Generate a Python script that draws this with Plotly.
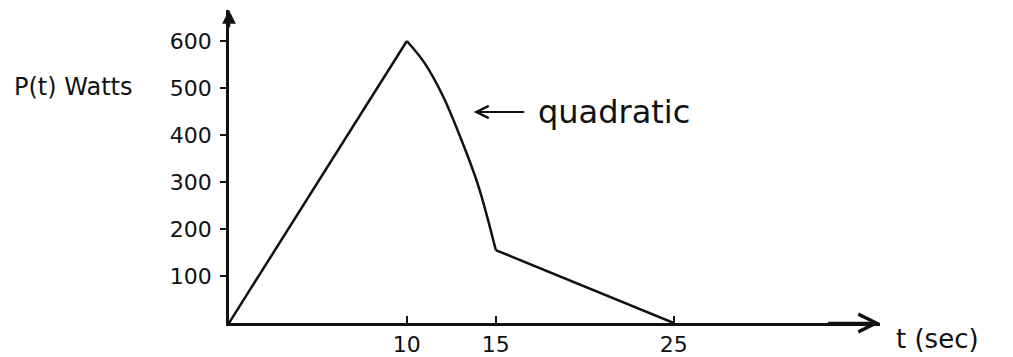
"""
Gráfico de potência P(t) em função do tempo
"""

import plotly.graph_objects as go

# trechos retos: subida até o pico e descida final
TEMPO_RETA_1 = [0, 10]
POTENCIA_RETA_1 = [0, 600]

TEMPO_QUADRATICO = [10, 11, 12, 13, 14, 15]
POTENCIA_QUADRATICO = [600, 553, 485, 396, 294, 155]

TEMPO_RETA_2 = [15, 25]
POTENCIA_RETA_2 = [155, 0]

TICKS_X = [10, 15, 25]
TICKS_Y = [100, 200, 300, 400, 500, 600]

FONTE = "DejaVu Sans"
PRETO = "#111111"


def criar_grafico_potencia():
    """
    Cria o gráfico P(t) com eixos em seta e anotação do trecho quadrático

    Returns:
        Figure Plotly
    """
    fig = go.Figure()

    linha = dict(color=PRETO, width=2.5)

    fig.add_trace(go.Scatter(x=TEMPO_RETA_1, y=POTENCIA_RETA_1,
                             mode="lines", line=linha))
    fig.add_trace(go.Scatter(x=TEMPO_QUADRATICO, y=POTENCIA_QUADRATICO,
                             mode="lines", line=dict(linha, shape="spline")))
    fig.add_trace(go.Scatter(x=TEMPO_RETA_2, y=POTENCIA_RETA_2,
                             mode="lines", line=linha))

    x_max = 36.6
    y_max = 666

    # setas dos eixos
    fig.add_annotation(x=x_max, y=0, ax=x_max - 3, ay=0,
                       xref="x", yref="y", axref="x", ayref="y",
                       text="", showarrow=True, arrowhead=5,
                       arrowsize=1.4, arrowwidth=2.5, arrowcolor=PRETO)
    fig.add_annotation(x=0, y=y_max, ax=0, ay=y_max - 40,
                       xref="x", yref="y", axref="x", ayref="y",
                       text="", showarrow=True, arrowhead=2,
                       arrowsize=1.1, arrowwidth=2.5, arrowcolor=PRETO)

    # seta e texto "quadratic"
    fig.add_annotation(x=13.76, y=449, ax=52, ay=0,
                       text="", showarrow=True, arrowhead=5,
                       arrowsize=1.1, arrowwidth=2.2, arrowcolor=PRETO)
    fig.add_annotation(x=17.25, y=449, text="quadratic", showarrow=False,
                       xanchor="left", yanchor="middle",
                       font=dict(family=FONTE, size=32, color=PRETO))

    fig.add_annotation(x=-0.333, y=502, xref="paper", yref="y",
                       text="P(t) Watts", showarrow=False,
                       xanchor="left", yanchor="middle",
                       font=dict(family=FONTE, size=24, color=PRETO))
    fig.add_annotation(x=1.022, y=-0.052, xref="paper", yref="paper",
                       text="t (sec)", showarrow=False,
                       xanchor="left", yanchor="middle",
                       font=dict(family=FONTE, size=26, color=PRETO))

    fig.update_layout(
        width=1013,
        height=357,
        margin=dict(l=221, r=141, t=2, b=42),
        showlegend=False,
        plot_bgcolor="white",
        paper_bgcolor="white",
        font=dict(family=FONTE, size=22, color=PRETO),
        xaxis=dict(
            range=[0, x_max],
            tickvals=TICKS_X,
            ticks="inside",
            ticklen=7,
            tickwidth=2,
            tickcolor=PRETO,
            showline=True,
            linewidth=2.5,
            linecolor=PRETO,
            showgrid=False,
            zeroline=False,
            fixedrange=True
        ),
        yaxis=dict(
            range=[0, y_max],
            tickvals=TICKS_Y,
            ticks="outside",
            ticklen=6,
            tickwidth=2,
            tickcolor=PRETO,
            ticklabelstandoff=4,
            showline=True,
            linewidth=2.5,
            linecolor=PRETO,
            showgrid=False,
            zeroline=False,
            fixedrange=True
        )
    )

    return fig


fig = criar_grafico_potencia()
fig.write_html("out.html")
